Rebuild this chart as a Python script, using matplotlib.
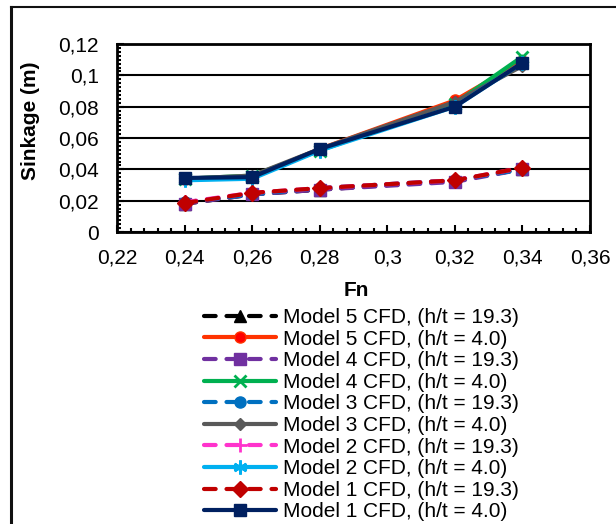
import matplotlib
matplotlib.use("Agg")
import matplotlib.pyplot as plt
from matplotlib.ticker import MultipleLocator, FuncFormatter
from matplotlib.lines import Line2D

plt.rcParams['font.family'] = ['Liberation Sans', 'DejaVu Sans']

fn = [0.24, 0.26, 0.28, 0.32, 0.34]

labels = [
    "Model 5 CFD, (h/t = 19.3)",
    "Model 5 CFD, (h/t = 4.0)",
    "Model 4 CFD, (h/t = 19.3)",
    "Model 4 CFD, (h/t = 4.0)",
    "Model 3 CFD, (h/t = 19.3)",
    "Model 3 CFD, (h/t = 4.0)",
    "Model 2 CFD, (h/t = 19.3)",
    "Model 2 CFD, (h/t = 4.0)",
    "Model 1 CFD, (h/t = 19.3)",
    "Model 1 CFD, (h/t = 4.0)",
]

m5_193 = [0.018, 0.024, 0.027, 0.033, 0.040]
m5_40 = [0.034, 0.035, 0.053, 0.084, 0.109]
m4_193 = [0.018, 0.024, 0.027, 0.032, 0.040]
m4_40 = [0.034, 0.036, 0.052, 0.082, 0.112]
m3_193 = [0.019, 0.024, 0.028, 0.033, 0.040]
m3_40 = [0.034, 0.036, 0.053, 0.083, 0.106]
m2_193 = [0.019, 0.025, 0.028, 0.033, 0.041]
m2_40 = [0.033, 0.034, 0.052, 0.080, 0.108]
m1_193 = [0.0185, 0.025, 0.028, 0.033, 0.041]
m1_40 = [0.0345, 0.035, 0.053, 0.080, 0.108]

series = [m5_193, m5_40, m4_193, m4_40, m3_193, m3_40, m2_193, m2_40, m1_193, m1_40]
colors = ['#000000', '#FF3300', '#7030A0', '#00B050', '#0070C0',
          '#595959', '#FF33CC', '#00B0F0', '#C00000', '#002060']
markers = ['^', 'o', 's', 'x', 'o', 'D', '+', (6, 2, 0), 'D', 's']
msizes = [8, 8, 8, 9, 8, 6, 10, 10, 8, 8]
dashed = [True, False] * 5

fig = plt.figure(figsize=(6.16, 5.24), dpi=100)
ax = fig.add_axes([117/616, 1-232/524, 473/616, 188/524])

for vals, c, m, ms, d, lab in zip(series, colors, markers, msizes, dashed, labels):
    ls = (0, (2.8, 2.6)) if d else '-'
    mfc = c
    mec = c
    if m == 'o' and c == '#FF3300':
        mfc = '#FF0000'
    ax.plot(fn, vals, color=c, lw=3, ls=ls, marker=m, ms=ms, mfc=mfc, mec=mec,
            mew=2 if m in ('x', '+', (6, 2, 0)) else 1,
            dash_capstyle='round', solid_capstyle='round', label=lab, zorder=3)

ax.set_xlim(0.22, 0.36)
ax.set_ylim(0, 0.12)
ax.xaxis.set_major_locator(MultipleLocator(0.02))
ax.xaxis.set_minor_locator(MultipleLocator(0.004))
ax.yaxis.set_major_locator(MultipleLocator(0.02))
ax.yaxis.set_minor_locator(MultipleLocator(0.0025))

def fmt(v, pos):
    s = ('%.2f' % v).rstrip('0').rstrip('.')
    if abs(v) < 1e-9:
        s = '0'
    return s.replace('.', ',')

ax.xaxis.set_major_formatter(FuncFormatter(fmt))
ax.yaxis.set_major_formatter(FuncFormatter(fmt))
ax.tick_params(axis='both', which='major', direction='in', length=5, width=1.5,
               labelsize=15, top=False, right=False)
ax.tick_params(axis='x', which='major', pad=12)
ax.tick_params(axis='y', which='major', pad=13)
ax.tick_params(axis='both', which='minor', direction='in', length=3, width=1.5,
               top=False, right=False)
ax.grid(axis='y', which='major', color='black', lw=1.5, zorder=1)
for sp in ax.spines.values():
    sp.set_linewidth(2)
    sp.set_color('black')

fig.text(30/616, 1-121/524, 'Sinkage (m)', rotation=90, fontsize=15,
         fontweight='bold', ha='center', va='center')
fig.text(356/616, 1-291/524, 'Fn', fontsize=15, fontweight='bold',
         ha='center', va='center')

handles, labs = ax.get_legend_handles_labels()
leg = fig.legend(handles, labs, loc='upper left', bbox_to_anchor=(204/616, 1-308/524),
                 frameon=False, fontsize=15, handlelength=3.46, handletextpad=0.34,
                 labelspacing=0.125, borderpad=0, borderaxespad=0)

# outer frame (left and top edges)
fig.add_artist(Line2D([11/616, 11/616], [0, 1-7/524], color='#111111', lw=2.2,
                      transform=fig.transFigure))
fig.add_artist(Line2D([11/616, 1], [1-7/524, 1-7/524], color='#111111', lw=1.5,
                      transform=fig.transFigure))

fig.savefig('out.png', dpi=100)
